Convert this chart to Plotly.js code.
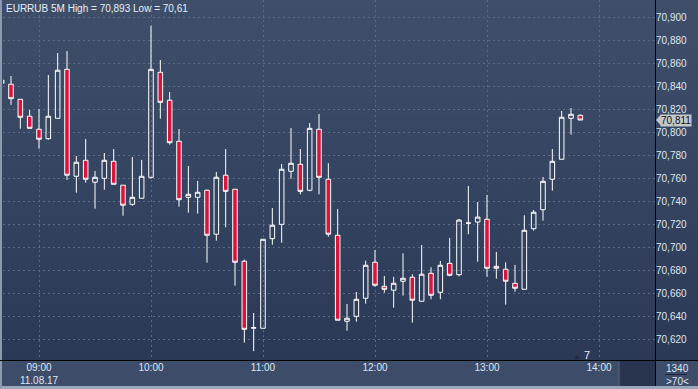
<!DOCTYPE html>
<html>
<head>
<meta charset="utf-8">
<script src="https://cdn.plot.ly/plotly-3.0.1.min.js"></script>
<style>
html,body{margin:0;padding:0;}
#wrap{position:relative;width:698px;height:389px;overflow:hidden;
background:linear-gradient(to bottom,#3f4f6a 0px,#2b3956 360px,#3d4d69 360px,#3d4d69 386px,#9aa6ba 386px,#9aa6ba 389px);}
#edge{position:absolute;left:0;top:0;width:2px;height:389px;background:#8d99ae;}
#chart{position:absolute;left:0;top:0;width:698px;height:389px;}
</style>
</head>
<body>
<div id="wrap"><div id="edge"></div><div id="chart"></div></div>
<script>
const symbolTitle = "EURRUB 5M High = 70,893 Low = 70,61";
const dayLabel = "11.08.17";
const times = ["08:40","08:45","08:50","08:55","09:00","09:05","09:10","09:15","09:20","09:25","09:30","09:35",
"09:40","09:45","09:50","09:55","10:00","10:05","10:10","10:15","10:20","10:25","10:30","10:35",
"10:40","10:45","10:50","10:55","11:00","11:05","11:10","11:15","11:20","11:25","11:30","11:35",
"11:40","11:45","11:50","11:55","12:00","12:05","12:10","12:15","12:20","12:25","12:30","12:35",
"12:40","12:45","12:50","12:55","13:00","13:05","13:10","13:15","13:20","13:25","13:30","13:35",
"13:40","13:45","13:50"];
const openV = [70.8456,70.8421,70.8290,70.8143,70.8030,70.7948,70.8125,70.8551,70.7621,70.7760,70.7569,70.7603,
70.7751,70.7543,70.7377,70.7430,70.7612,70.8525,70.8282,70.7925,70.7438,70.7438,70.7499,70.7117,
70.7630,70.7508,70.6882,70.6300,70.6299,70.7078,70.7203,70.7664,70.7725,70.7499,70.8030,70.7595,
70.7108,70.6360,70.6403,70.6560,70.6873,70.6664,70.6630,70.6708,70.6743,70.6534,70.6777,70.6612,
70.6864,70.6765,70.7214,70.7223,70.7247,70.6838,70.6812,70.6690,70.6638,70.7165,70.7330,70.7595,
70.7769,70.8125,70.8151];
const highV = [70.8470,70.8493,70.8290,70.8197,70.8206,70.8502,70.8693,70.8710,70.7797,70.7945,70.7667,70.7823,
70.7858,70.7543,70.7789,70.7763,70.8930,70.8632,70.8354,70.8032,70.7710,70.7580,70.7505,70.7658,
70.7858,70.7508,70.6896,70.6432,70.7073,70.7345,70.7728,70.8041,70.7858,70.8084,70.8163,70.7734,
70.7337,70.6510,70.6615,70.6887,70.6980,70.6754,70.6747,70.6950,70.6769,70.7023,70.6830,70.6884,
70.7083,70.7250,70.7537,70.7397,70.7458,70.6963,70.6873,70.6850,70.7282,70.7328,70.7615,70.7858,
70.8189,70.8215,70.8160];
const lowV = [70.8430,70.8243,70.8035,70.8038,70.7861,70.7939,70.8125,70.7589,70.7478,70.7565,70.7339,70.7504,
70.7551,70.7278,70.7365,70.7430,70.7600,70.8122,70.7896,70.7357,70.7304,70.7296,70.6870,70.7061,
70.7177,70.6670,70.6174,70.6100,70.6299,70.7026,70.7043,70.7600,70.7464,70.7490,70.7464,70.7096,
70.6369,70.6278,70.6357,70.6513,70.6661,70.6609,70.6478,70.6583,70.6348,70.6534,70.6551,70.6551,
70.6751,70.6751,70.7117,70.6878,70.6748,70.6730,70.6504,70.6617,70.6638,70.7148,70.7235,70.7496,
70.7769,70.7983,70.8110];
const closeV = [70.8430,70.8296,70.8134,70.8038,70.7943,70.8143,70.8543,70.7630,70.7743,70.7595,70.7612,70.7760,
70.7551,70.7369,70.7438,70.7621,70.8551,70.8264,70.7913,70.7417,70.7464,70.7482,70.7108,70.7612,
70.7490,70.6873,70.6290,70.6304,70.7073,70.7195,70.7682,70.7734,70.7490,70.8038,70.7612,70.7117,
70.6369,70.6386,70.6551,70.6847,70.6673,70.6638,70.6690,70.6734,70.6543,70.6769,70.6586,70.6847,
70.6760,70.7240,70.7214,70.7266,70.6821,70.6821,70.6708,70.6647,70.7151,70.7308,70.7577,70.7751,
70.8134,70.8160,70.8110];
const hourTicks = ["09:00","10:00","11:00","12:00","13:00","14:00"];
const volumeLabel = "1340";
const rangeLabel = ">70<";
const tickCount = "7";

const day = "2017-08-11 ";
const xs = times.map(t => day + t);
const tickvals = hourTicks.map(t => day + t);
const ticktext = hourTicks.map((t,i) => i === 0 ? t + "<br>" + dayLabel : t);

const W = 698, H = 389, ML = 3, MR = 43, MT = 0, MB = 29;
const PW = W - ML - MR, PH = H - MT - MB;
const px = x => (x - ML) / PW;
const py = y => (H - MB - y) / PH;

const lastClose = closeV[closeV.length - 1];
const fmt = v => v.toFixed(3).replace('.', ',');
const tagH = 0.0050;

const txtColor = '#dde6f3';
const font = {family: 'Liberation Sans, Arial, sans-serif', size: 10, color: txtColor};

const trace = {
  type: 'candlestick', x: xs, open: openV, high: highV, low: lowV, close: closeV,
  increasing: {line: {color: '#ffffff', width: 1}, fillcolor: 'rgba(0,0,0,0)'},
  decreasing: {line: {color: '#ffffff', width: 1}, fillcolor: '#dc143c'},
  whiskerwidth: 0, hoverinfo: 'skip', showlegend: false
};

const layout = {
  width: W, height: H,
  margin: {l: ML, r: MR, t: MT, b: MB, pad: 0},
  paper_bgcolor: 'rgba(0,0,0,0)', plot_bgcolor: 'rgba(0,0,0,0)',
  separators: ',.',
  font: font,
  showlegend: false,
  xaxis: {
    type: 'date', range: [day + '08:40:43', day + '14:30:00'],
    rangeslider: {visible: false},
    tickmode: 'array', tickvals: tickvals, ticktext: ticktext,
    showgrid: true, gridcolor: '#5b6b86', griddash: '2px,3px', gridwidth: 1,
    zeroline: false, showline: false, ticks: '', tickfont: font, fixedrange: true
  },
  yaxis: {
    side: 'right', range: [70.6023, 70.9154],
    tickmode: 'linear', tick0: 70.62, dtick: 0.02, tickformat: '.3f',
    showgrid: true, gridcolor: '#5b6b86', griddash: '2px,3px', gridwidth: 1,
    zeroline: false, showline: false, ticks: '', tickfont: font, fixedrange: true
  },
  shapes: [
    {type: 'rect', xref: 'paper', yref: 'paper', x0: px(619), x1: px(655), y0: py(386), y1: py(361),
     fillcolor: '#29354f', line: {width: 0}, layer: 'below'},
    {type: 'line', xref: 'paper', yref: 'paper', x0: px(619), x1: px(619), y0: py(386), y1: py(362),
     line: {color: '#5d6a82', width: 1}},
    {type: 'rect', xref: 'paper', yref: 'paper', x0: px(656), x1: px(698), y0: py(386), y1: py(361),
     fillcolor: '#3d4d69', line: {width: 0}, layer: 'below'},
    {type: 'line', xref: 'paper', yref: 'paper', x0: px(665), x1: px(687), y0: py(374.5), y1: py(374.5),
     line: {color: '#1d2638', width: 1}},
    {type: 'line', xref: 'paper', yref: 'paper', x0: px(0), x1: px(698), y0: py(360.5), y1: py(360.5),
     line: {color: '#000000', width: 1}},
    {type: 'line', xref: 'paper', yref: 'paper', x0: px(655.5), x1: px(655.5), y0: py(386), y1: py(0),
     line: {color: '#000000', width: 1}},
    {type: 'path', xref: 'paper', yref: 'y',
     path: 'M ' + px(656) + ',' + lastClose + ' L ' + px(661) + ',' + (lastClose + tagH) +
           ' L ' + px(661) + ',' + (lastClose - tagH) + ' Z',
     fillcolor: '#c4c6ca', line: {width: 0}}
  ],
  annotations: [
    {xref: 'paper', yref: 'paper', x: px(4), y: py(1), xanchor: 'left', yanchor: 'top',
     text: symbolTitle, showarrow: false, font: {family: font.family, size: 10, color: '#e8eef7'}},
    {xref: 'paper', yref: 'y', x: px(660), y: lastClose, xanchor: 'left', yanchor: 'middle',
     text: fmt(lastClose), showarrow: false, bgcolor: '#c4c6ca', borderpad: 0,
     font: {family: font.family, size: 10, color: '#111111'}},
    {xref: 'paper', yref: 'paper', x: px(677), y: py(368), xanchor: 'center', yanchor: 'middle',
     text: volumeLabel, showarrow: false, font: font},
    {xref: 'paper', yref: 'paper', x: px(677), y: py(381), xanchor: 'center', yanchor: 'middle',
     text: rangeLabel, showarrow: false, font: font},
    {xref: 'paper', yref: 'paper', x: px(592), y: py(355), xanchor: 'right', yanchor: 'middle',
     text: '<span style="color:#1f2a40;font-size:8px">▲</span> ' + tickCount, showarrow: false,
     font: {family: font.family, size: 11, color: '#e8eef7'}}
  ]
};

Plotly.newPlot('chart', [trace], layout, {staticPlot: true, displayModeBar: false});
</script>
</body>
</html>
